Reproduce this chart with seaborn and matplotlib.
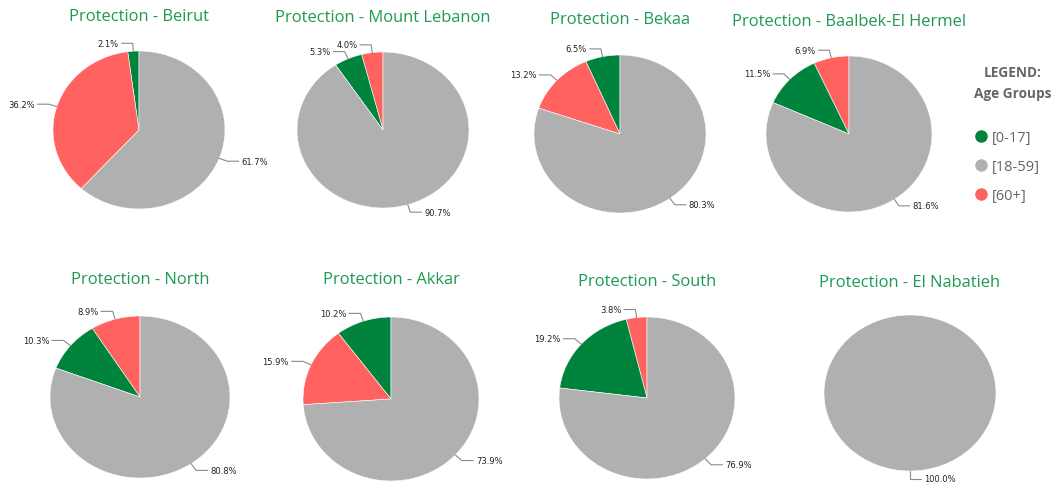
import numpy as np
import matplotlib.pyplot as plt
import seaborn as sns
from matplotlib.lines import Line2D

# Age group shares (%) per governorate
regions = ["Beirut", "Mount Lebanon", "Bekaa", "Baalbek-El Hermel",
           "North", "Akkar", "South", "El Nabatieh"]
age_groups = ["[0-17]", "[18-59]", "[60+]"]
age_0_17 = [2.1, 5.3, 6.5, 11.5, 10.3, 10.2, 19.2, 0.0]
age_18_59 = [61.7, 90.7, 80.3, 81.6, 80.8, 73.9, 76.9, 100.0]
age_60_plus = [36.2, 4.0, 13.2, 6.9, 8.9, 15.9, 3.8, 0.0]

sns.set_theme(style="white")
plt.rcParams['font.family'] = ['Open Sans', 'DejaVu Sans']

colors = dict(zip(age_groups, ["#00833D", "#B0B0B0", "#FF625F"]))
title_color = "#1E9A52"

W, H = 1062, 489
fig = plt.figure(figsize=(W / 100, H / 100), dpi=100)

# pie centre x, centre y, radius x, radius y, title y (pixels)
layout = [
    (139, 131, 86, 79, 17), (383, 131, 86, 78, 18),
    (620, 135, 86, 79, 20), (849, 135, 83, 78, 22),
    (140, 398, 90, 81, 280), (391, 400, 88, 82, 280),
    (647, 399, 88, 81, 282), (910, 394, 86, 78, 283),
]

for i, region in enumerate(regions):
    cx, cy, rx, ry, ty = layout[i]
    ax = fig.add_axes([(cx - rx) / W, 1 - (cy + ry) / H, 2 * rx / W, 2 * ry / H])
    vals = [age_0_17[i], age_18_59[i], age_60_plus[i]]
    pairs = sorted([(v, g) for v, g in zip(vals, age_groups) if v > 0])
    sizes = [p[0] for p in pairs]
    labs = [p[1] for p in pairs]
    wedges, _ = ax.pie(sizes, colors=[colors[g] for g in labs], startangle=90,
                       counterclock=True, radius=1,
                       wedgeprops=dict(edgecolor="white", linewidth=0.4))
    ax.set_aspect("auto")
    ax.set_xlim(-1, 1)
    ax.set_ylim(-1, 1)
    ax.axis("off")

    for w, v in zip(wedges, sizes):
        ang = np.deg2rad((w.theta1 + w.theta2) / 2)
        c, s = np.cos(ang), np.sin(ang)
        side = 1 if c >= -1e-9 else -1
        x0, y0 = c, s
        x1, y1 = 1.1 * c, 1.1 * s
        x2 = x1 + side * 0.13
        ax.plot([x0, x1, x2], [y0, y1, y1], color="#8a8a8a", lw=0.8,
                clip_on=False, solid_joinstyle="miter")
        ax.text(x2 + side * 0.03, y1, f"{v:.1f}%", fontsize=6, color="#222222",
                ha="left" if side > 0 else "right", va="center",
                family=["DejaVu Sans"])

    fig.text(cx / W, 1 - ty / H, f"Protection - {region}", fontsize=11.9,
             color=title_color, ha="center", va="center")

# legend
fig.text(1013 / W, 1 - 73 / H, "LEGEND:", fontsize=9.8, fontweight="bold",
         color="#666666", ha="center", va="center")
fig.text(1013 / W, 1 - 94 / H, "Age Groups", fontsize=9.8, fontweight="bold",
         color="#666666", ha="center", va="center")
handles = [Line2D([0], [0], marker="o", linestyle="", markersize=8,
                  markerfacecolor=colors[g], markeredgecolor=colors[g])
           for g in age_groups]
leg = fig.legend(handles, age_groups, loc="upper left",
                 bbox_to_anchor=(977 / W, 1 - 131 / H), frameon=False,
                 fontsize=10.5, labelspacing=0.95, handlelength=0.6,
                 handletextpad=0.4, borderpad=0, borderaxespad=0)
for t in leg.get_texts():
    t.set_color("#666666")

fig.savefig("out.png", dpi=100, facecolor="white")
